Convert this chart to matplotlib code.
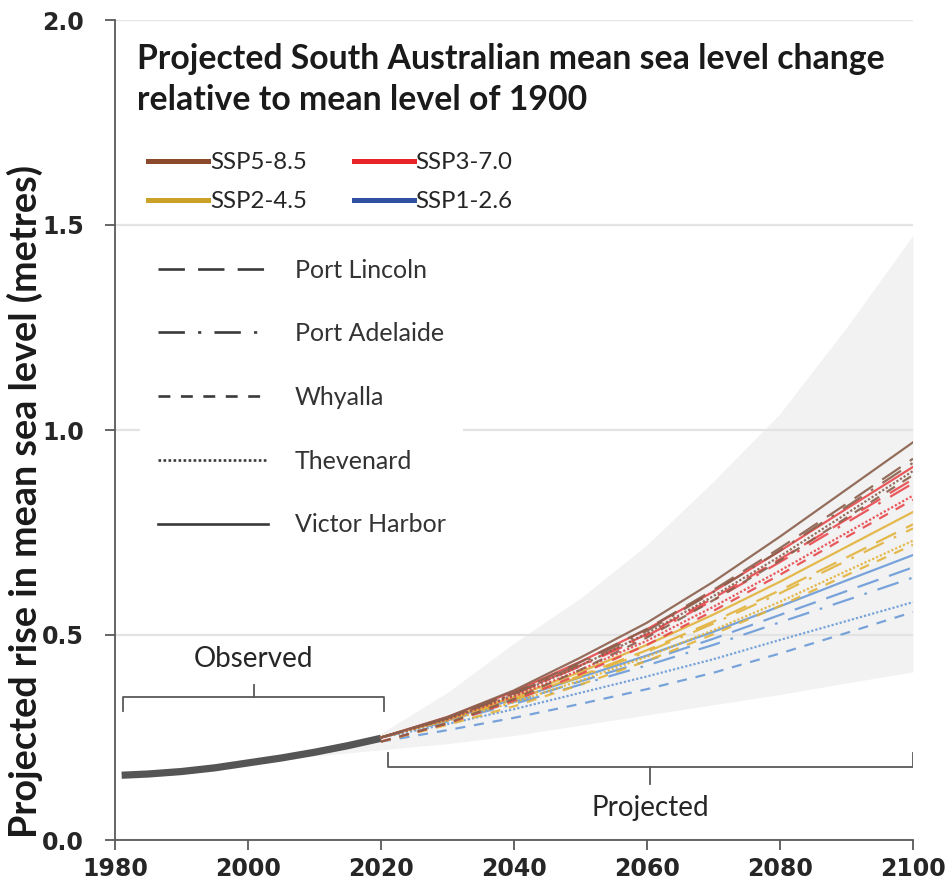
import matplotlib
matplotlib.use("Agg")
import matplotlib.pyplot as plt
from matplotlib.lines import Line2D
import numpy as np

# ---------------- data ----------------
obs_years = [1981, 1985, 1990, 1995, 2000, 2005, 2010, 2015, 2020]
obs_vals = [0.158, 0.161, 0.167, 0.176, 0.188, 0.200, 0.214, 0.230, 0.248]

env_years = [2000, 2010, 2020, 2030, 2040, 2050, 2060, 2070, 2080, 2090, 2100]
env_upper = [0.19, 0.215, 0.26, 0.36, 0.48, 0.59, 0.72, 0.875, 1.04, 1.25, 1.475]
env_lower = [0.185, 0.205, 0.22, 0.235, 0.255, 0.28, 0.305, 0.33, 0.355, 0.383, 0.41]

proj_years = [2020, 2030, 2040, 2050, 2060, 2070, 2080, 2090, 2100]

scenarios = ["SSP5-8.5", "SSP3-7.0", "SSP2-4.5", "SSP1-2.6"]
sites = ["Port Lincoln", "Port Adelaide", "Whyalla", "Thevenard", "Victor Harbor"]

ssp585 = {
    "Victor Harbor": [0.25, 0.30, 0.365, 0.445, 0.53, 0.63, 0.74, 0.855, 0.97],
    "Port Lincoln":  [0.25, 0.298, 0.359, 0.434, 0.515, 0.61, 0.712, 0.82, 0.93],
    "Port Adelaide": [0.25, 0.297, 0.357, 0.43, 0.51, 0.605, 0.706, 0.813, 0.92],
    "Whyalla":       [0.24, 0.285, 0.344, 0.415, 0.494, 0.585, 0.682, 0.786, 0.89],
    "Thevenard":     [0.25, 0.295, 0.354, 0.425, 0.504, 0.595, 0.692, 0.796, 0.90],
}
ssp370 = {
    "Victor Harbor": [0.25, 0.30, 0.362, 0.435, 0.514, 0.606, 0.705, 0.808, 0.91],
    "Port Lincoln":  [0.25, 0.297, 0.357, 0.426, 0.502, 0.59, 0.685, 0.782, 0.88],
    "Port Adelaide": [0.25, 0.297, 0.355, 0.424, 0.498, 0.585, 0.678, 0.774, 0.87],
    "Whyalla":       [0.24, 0.284, 0.34, 0.405, 0.476, 0.559, 0.647, 0.739, 0.83],
    "Thevenard":     [0.25, 0.294, 0.35, 0.415, 0.486, 0.569, 0.657, 0.749, 0.84],
}
ssp245 = {
    "Victor Harbor": [0.25, 0.297, 0.349, 0.41, 0.476, 0.55, 0.63, 0.715, 0.80],
    "Port Lincoln":  [0.25, 0.294, 0.344, 0.401, 0.463, 0.533, 0.609, 0.689, 0.77],
    "Port Adelaide": [0.25, 0.293, 0.342, 0.398, 0.459, 0.528, 0.602, 0.681, 0.76],
    "Whyalla":       [0.24, 0.281, 0.326, 0.379, 0.437, 0.502, 0.571, 0.646, 0.72],
    "Thevenard":     [0.25, 0.291, 0.336, 0.389, 0.447, 0.512, 0.581, 0.656, 0.73],
}
ssp126 = {
    "Victor Harbor": [0.25, 0.295, 0.343, 0.397, 0.45, 0.508, 0.57, 0.633, 0.695],
    "Port Lincoln":  [0.25, 0.292, 0.337, 0.387, 0.437, 0.491, 0.549, 0.607, 0.665],
    "Port Adelaide": [0.25, 0.289, 0.332, 0.379, 0.426, 0.476, 0.531, 0.585, 0.64],
    "Whyalla":       [0.24, 0.268, 0.298, 0.332, 0.368, 0.408, 0.455, 0.505, 0.556],
    "Thevenard":     [0.25, 0.283, 0.319, 0.359, 0.399, 0.441, 0.488, 0.534, 0.58],
}
proj_data = {"SSP5-8.5": ssp585, "SSP3-7.0": ssp370, "SSP2-4.5": ssp245, "SSP1-2.6": ssp126}

obs_span = (1981.2, 2020.5)
proj_span = (2021.0, 2100.0)

x_ticks = [1980, 2000, 2020, 2040, 2060, 2080, 2100]
y_ticks = [0.0, 0.5, 1.0, 1.5, 2.0]

# ---------------- styles ----------------
legend_colors = {"SSP5-8.5": "#8b4a2b", "SSP3-7.0": "#e8232a",
                 "SSP2-4.5": "#c9a227", "SSP1-2.6": "#2f50a0"}
line_colors = {"SSP5-8.5": "#8a5f4c", "SSP3-7.0": "#e8474b",
               "SSP2-4.5": "#e2b23a", "SSP1-2.6": "#6b9bd8"}
site_styles = {
    "Port Lincoln": (0, (10, 5)),
    "Port Adelaide": (0, (10, 5, 1.2, 5)),
    "Whyalla": (0, (4.5, 4)),
    "Thevenard": (0, (1, 0.9)),
    "Victor Harbor": "-",
}
axis_col = "#595959"

W, H = 947, 896
fig = plt.figure(figsize=(W / 100, H / 100), dpi=100)
x0, x1, y0, y1 = 115, 913, 20, 840
ax = fig.add_axes([x0 / W, 1 - y1 / H, (x1 - x0) / W, (y1 - y0) / H])

ax.set_xlim(1980, 2100)
ax.set_ylim(0, 2.0)
ax.set_axisbelow(True)
ax.yaxis.grid(True, color="#e3e3e3", lw=1.6)
ax.xaxis.grid(False)

# envelope
ax.fill_between(env_years, env_lower, env_upper, color="#f2f2f2", lw=0, zorder=0.3)

# observed
ax.plot(obs_years, obs_vals, color="#555555", lw=5.2, solid_capstyle="butt", zorder=3)

# projections
for scen in ["SSP1-2.6", "SSP2-4.5", "SSP3-7.0", "SSP5-8.5"]:
    for site in sites:
        ax.plot(proj_years, proj_data[scen][site], color=line_colors[scen],
                lw=1.6, ls=site_styles[site], alpha=0.9, zorder=4)

# spines / ticks
for s in ["top", "right"]:
    ax.spines[s].set_visible(False)
for s in ["left", "bottom"]:
    ax.spines[s].set_color(axis_col)
    ax.spines[s].set_linewidth(1.3)
ax.set_xticks(x_ticks)
ax.set_yticks(y_ticks)
ax.set_yticklabels([f"{v:.1f}" for v in y_ticks])
ax.tick_params(axis="both", direction="out", length=7.5, width=1.3, color=axis_col,
               labelsize=17, labelcolor="#262626")
ax.tick_params(axis="y", pad=15)
ax.tick_params(axis="x", pad=5)
for lab in ax.get_xticklabels() + ax.get_yticklabels():
    lab.set_fontweight("bold")
    lab.set_fontfamily("DejaVu Sans")

# brackets
def bracket(xa, xb, y, end_dy, mid_x, mid_dy):
    ax.plot([xa, xa, xb, xb], [y + end_dy, y, y, y + end_dy], color=axis_col, lw=1.3,
            zorder=5, solid_joinstyle="round")
    ax.plot([mid_x, mid_x], [y, y + mid_dy], color=axis_col, lw=1.3, zorder=5)

bracket(obs_span[0], obs_span[1], 0.349, -0.034, 2000.9, 0.03)
bracket(proj_span[0], proj_span[1], 0.178, 0.034, 2060.5, -0.042)
ax.text(2000.9, 0.441, "Observed", ha="center", va="center", fontsize=20,
        family="Lato", color="#262626")
ax.text(2060.5, 0.078, "Projected", ha="center", va="center", fontsize=20,
        family="Lato", color="#262626")

# title
t1 = fig.text(137 / W, 1 - 69 / H, "Projected South Australian mean sea level change",
              ha="left", va="baseline", fontsize=19, fontweight="bold", family="Lato",
              color="#1a1a1a")
t2 = fig.text(137 / W, 1 - 110 / H, "relative to mean level of 1900",
              ha="left", va="baseline", fontsize=19, fontweight="bold", family="Lato",
              color="#1a1a1a")

# y label
yl = fig.text(25 / W, 1 - 501 / H, "Projected rise in mean sea level (metres)",
              rotation=90, ha="center", va="center", fontsize=20, fontweight="bold",
              family="Lato", color="#1a1a1a")

fig.canvas.draw()
def fit_width(t, target, horiz=True):
    bb = t.get_window_extent()
    w = bb.width if horiz else bb.height
    t.set_fontsize(t.get_fontsize() * target / w)
fit_width(t1, 746)
t2.set_fontsize(t1.get_fontsize())
fit_width(yl, 673, horiz=False)

# scenario legend (row-wise order: SSP5, SSP3 / SSP2, SSP1)
fs_leg = 17.3
leg_order = ["SSP5-8.5", "SSP2-4.5", "SSP3-7.0", "SSP1-2.6"]
scen_handles = [Line2D([], [], color=legend_colors[s], lw=3.6) for s in leg_order]
leg1 = fig.legend(scen_handles, leg_order, loc="upper left",
                  bbox_to_anchor=(148 / W, 1 - 152 / H), bbox_transform=fig.transFigure,
                  ncol=2, frameon=False, handlelength=2.5,
                  handletextpad=0.08, columnspacing=1.95, labelspacing=0.75,
                  borderpad=0, borderaxespad=0, prop={"family": "Lato", "size": fs_leg})
for t in leg1.get_texts():
    t.set_color("#262626")

# site legend
fs_site = 18
site_order = ["Port Lincoln", "Port Adelaide", "Whyalla", "Thevenard", "Victor Harbor"]
site_handles = [Line2D([], [], color="#3a3a3a", lw=1.9, ls=site_styles[s]) for s in site_order]
leg2 = ax.legend(site_handles, site_order, loc="upper left",
                 bbox_to_anchor=(140 / W, 1 - 241 / H), bbox_transform=fig.transFigure,
                 frameon=True, handlelength=4.4, handletextpad=1.1,
                 labelspacing=1.63, borderpad=0.7, borderaxespad=0,
                 prop={"family": "Lato", "size": fs_site})
leg2.get_frame().set_facecolor("white")
leg2.get_frame().set_edgecolor("none")
leg2.get_frame().set_alpha(1)
leg2.set_zorder(6)
for t in leg2.get_texts():
    t.set_color("#333333")
ax.add_artist(leg2)

fig.savefig("out.png", dpi=100, facecolor="white")
